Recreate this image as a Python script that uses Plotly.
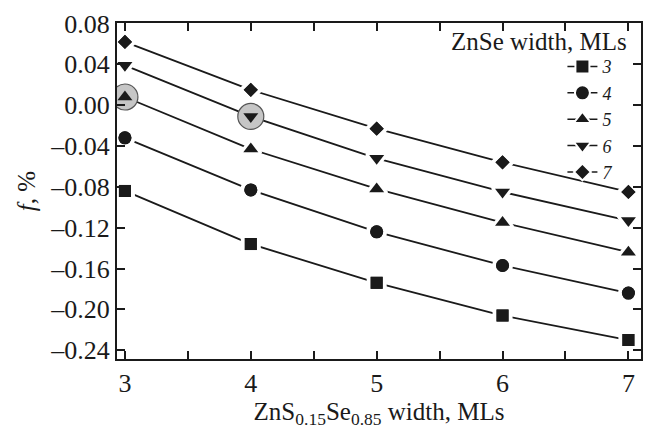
import plotly.graph_objects as go

x_vals = [3, 4, 5, 6, 7]
series_names = ["3", "4", "5", "6", "7"]
series_symbols = ["square", "circle", "triangle-up", "triangle-down", "diamond"]
series_sizes = [12, 13, 13, 13, 11]
y_ml3 = [-0.084, -0.136, -0.174, -0.206, -0.230]
y_ml4 = [-0.032, -0.083, -0.124, -0.157, -0.184]
y_ml5 = [0.008, -0.043, -0.082, -0.115, -0.144]
y_ml6 = [0.039, -0.011, -0.052, -0.085, -0.113]
y_ml7 = [0.062, 0.015, -0.023, -0.056, -0.085]
series_values = [y_ml3, y_ml4, y_ml5, y_ml6, y_ml7]
# highlighted points (circled)
hl_x = [3, 4]
hl_y = [y_ml5[0], y_ml6[1]]
y_ticks = [0.08, 0.04, 0.0, -0.04, -0.08, -0.12, -0.16, -0.20, -0.24]
y_ticktext = [("\u2013" if v < 0 else "") + f"{abs(v):.2f}" for v in y_ticks]

FONT = "Liberation Serif, Times New Roman, Times, serif"
INK = "#1a1a1a"
HALO = 4

fig = go.Figure()

# lines + markers with white halo (gap between line and marker)
for name, sym, sz, ys in zip(series_names, series_symbols, series_sizes, series_values):
    fig.add_trace(go.Scatter(
        x=x_vals, y=ys, name=name, mode="lines+markers",
        line=dict(color=INK, width=1.8),
        marker=dict(symbol=sym, size=sz + HALO, color=INK, line=dict(color="white", width=HALO)),
        showlegend=False,
    ))

# gray highlight circles
fig.add_trace(go.Scatter(
    x=hl_x, y=hl_y, mode="markers", showlegend=False, hoverinfo="skip",
    marker=dict(symbol="circle", size=26, color="#c6c6c6", line=dict(color="#555555", width=1.2)),
))

# markers on top without halo
for name, sym, sz, ys in zip(series_names, series_symbols, series_sizes, series_values):
    fig.add_trace(go.Scatter(
        x=x_vals, y=ys, mode="markers", showlegend=False, hoverinfo="skip",
        marker=dict(symbol=sym, size=sz, color=INK, line=dict(width=0)),
    ))

# legend entries (no data, legend only)
for name, sym, sz in zip(series_names, series_symbols, series_sizes):
    fig.add_trace(go.Scatter(
        x=[None], y=[None], name=name, mode="lines+markers",
        line=dict(color=INK, width=1.5),
        marker=dict(symbol=sym, size=sz + 2, color=INK, line=dict(color="white", width=2)),
        showlegend=True,
    ))

fig.update_layout(
    width=653, height=430,
    margin=dict(l=117, r=10, t=18, b=67),
    paper_bgcolor="white", plot_bgcolor="white",
    font=dict(family=FONT, size=26, color=INK),
    legend=dict(
        x=0.955, xanchor="right", y=0.925, yanchor="top",
        font=dict(family=FONT, size=18, style="italic", color=INK),
        bgcolor="rgba(0,0,0,0)", borderwidth=0, tracegroupgap=0,
        itemwidth=30,
    ),
    annotations=[dict(
        text="ZnSe width, MLs", xref="paper", yref="paper",
        x=0.978, y=0.99, xanchor="right", yanchor="top", showarrow=False,
        font=dict(family=FONT, size=25, color=INK),
    )],
)

fig.update_xaxes(
    range=[2.937, 7.10], tickvals=x_vals, ticktext=[str(v) for v in x_vals],
    ticks="inside", ticklen=8, tickwidth=1.5, tickcolor=INK,
    minor=dict(ticks="inside", ticklen=8, tickwidth=1.5, tickcolor=INK, dtick=0.5, tick0=3, showgrid=False),
    showline=True, linewidth=2, linecolor=INK, mirror="ticks",
    showgrid=False, zeroline=False,
    tickfont=dict(family=FONT, size=26),
    title=dict(text="ZnS<sub>0.15</sub>Se<sub>0.85</sub> width, MLs", font=dict(family=FONT, size=25), standoff=4),
)
fig.update_yaxes(
    range=[-0.2486, 0.0805], tickvals=y_ticks, ticktext=y_ticktext,
    ticks="inside", ticklen=8, tickwidth=1.5, tickcolor=INK,
    showline=True, linewidth=2, linecolor=INK, mirror="ticks",
    showgrid=False, zeroline=False,
    tickfont=dict(family=FONT, size=26),
    title=dict(text="<i>f</i>, %", font=dict(family=FONT, size=25), standoff=8),
)

fig.write_html("out.html")
